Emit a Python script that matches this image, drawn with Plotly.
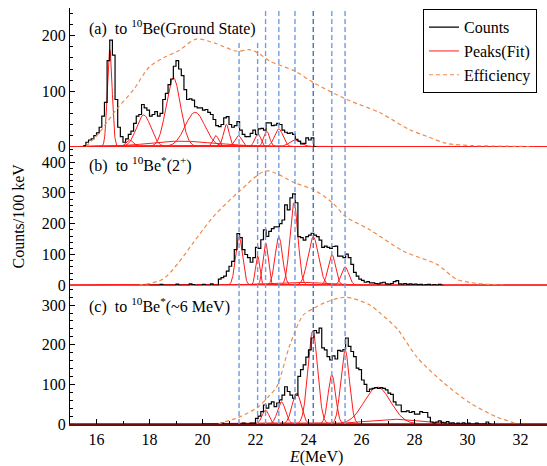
import numpy as np
import plotly.graph_objects as go

# ── Data ────────────────────────────────────────────────────────────────────
BIN = 0.1  # 100 keV bins

# (a) to 10Be ground state
A_START = 15.5
A_COUNTS = [2, 8, 12, 14, 20, 25, 35, 55, 80, 155, 192, 165, 85, 35, 18, 8, 14, 22, 28, 42,
            55, 58, 76, 70, 66, 55, 58, 63, 55, 60, 85, 96, 112, 122, 145, 155, 140, 128, 103, 85,
            86, 84, 72, 70, 70, 66, 67, 62, 58, 49, 38, 36, 40, 52, 54, 40, 35, 38, 45, 30,
            22, 18, 18, 24, 30, 22, 32, 33, 30, 43, 43, 38, 39, 42, 40, 30, 26, 24, 25, 22,
            13, 10, 5, 6, 16, 12, 16, 0]

# (b) to 10Be*(2+)
B_START = 18.0
B_COUNTS = [0, 0, 0, 0, 3, 0, 0, 0, 0, 0, 4, 0, 0, 0, 0, 5, 2, 0, 0, 0, 3, 0, 0, 5, 0, 0,
            20, 25, 30, 46, 62, 78, 116, 168, 155, 116, 100, 90, 75, 90, 123, 120, 148, 180, 159, 175,
            184, 190, 190, 200, 212, 261, 245, 284, 297, 268, 158, 155, 147, 158, 163, 169, 163, 158, 147,
            123, 127, 123, 120, 126, 127, 95, 95, 90, 101, 90, 68, 42, 30, 20, 16, 10, 12, 8, 8,
            6, 5, 8, 10, 5, 4, 6, 12, 15, 5, 4, 6, 3, 5, 3, 4, 2, 3, 0, 2, 3, 0, 2, 0, 3, 0]

# (c) to 10Be*(~6 MeV)
C_START = 20.0
C_COUNTS = [0, 0, 0, 0, 0, 0, 0, 2, 0, 0, 0, 0, 0, 0, 0, 2, 0, 0, 2,
            2, 14, 20, 31, 48, 40, 51, 56, 44, 53, 61, 73, 94, 82, 73, 65, 73, 120, 137, 149, 169,
            187, 217, 236, 230, 242, 192, 187, 170, 162, 172, 164, 186, 184, 188, 217, 196, 183, 170, 141, 137,
            111, 100, 82, 88, 90, 92, 90, 92, 90, 86, 78, 75, 56, 48, 48, 31, 31, 33, 29, 31,
            25, 25, 31, 29, 29, 17, 5, 3, 5, 8, 4, 3, 6, 2, 3, 0, 2, 0, 3, 0, 2, 0, 0, 2, 0, 0, 0, 5, 0]

# fitted peaks: centre (MeV), height (counts), sigma (MeV)
A_PEAK_E = [16.5, 17.25, 17.78, 18.9, 19.72, 20.5, 20.9, 21.35, 22.08, 22.42, 22.88, 23.5, 19.2]
A_PEAK_H = [175, 12, 57, 124, 62, 20, 40, 20, 24, 28, 32, 12, 10]
A_PEAK_S = [0.09, 0.13, 0.27, 0.27, 0.37, 0.11, 0.11, 0.13, 0.11, 0.11, 0.16, 0.22, 1.2]

B_PEAK_E = [21.38, 22.08, 22.38, 22.88, 23.45, 24.18, 24.88, 25.38, 23.5]
B_PEAK_H = [157, 95, 138, 157, 268, 157, 100, 60, 10]
B_PEAK_S = [0.13, 0.08, 0.1, 0.14, 0.15, 0.2, 0.14, 0.14, 1.2]

C_PEAK_E = [22.38, 22.98, 23.55, 24.16, 24.88, 25.38, 26.6, 27.2]
C_PEAK_H = [35, 56, 78, 235, 124, 187, 93, 12]
C_PEAK_S = [0.13, 0.15, 0.17, 0.18, 0.14, 0.16, 0.5, 1.0]

# efficiency curves (already scaled to each panel)
A_EFF_E = [15.6, 16.1, 16.75, 17.4, 18.0, 18.6, 19.1, 19.77, 20.5, 21.3, 21.75, 22.1, 22.55, 23.5,
           24.2, 25.45, 26.7, 27.8, 28.5, 29.2, 30.1, 31.4, 32.5]
A_EFF = [0, 25, 67, 103, 144, 162, 173, 194, 186, 172, 175, 169, 154, 136,
         115, 85, 61, 31, 18, 6, 2, 1, 0]

B_EFF_E = [17.6, 18.5, 19.1, 19.65, 20.4, 21.4, 22.4, 23.5, 24.2, 24.9, 25.4, 26.3, 27.6, 28.85,
           29.6, 30.4, 31.5]
B_EFF = [0, 20, 74, 138, 222, 306, 371, 332, 310, 268, 223, 181, 110, 68, 19, 6, 0]

C_EFF_E = [20.6, 21.4, 22.1, 22.5, 22.8, 23.3, 23.8, 24.2, 24.6, 25.4, 26.3, 26.7, 27.35, 28.1,
           29.1, 30.1, 31.1, 31.9]
C_EFF = [0, 18, 43, 70, 94, 200, 275, 292, 306, 320, 301, 280, 240, 168, 104, 53, 18, 0]

# resonance positions (dashed markers)
LINES_E = [21.38, 22.08, 22.38, 22.88, 23.49, 24.18, 24.88, 25.38]

PANEL_TEXT = ["(a)  to <sup>10</sup>Be(Ground State)",
              "(b)  to <sup>10</sup>Be<sup>*</sup>(2<sup>+</sup>)",
              "(c)  to <sup>10</sup>Be<sup>*</sup>(~6 MeV)"]

# ── Figure ──────────────────────────────────────────────────────────────────
FONT = "Liberation Serif, Times New Roman, serif"
fig = go.Figure()

panels = [
    ("y", A_START, A_COUNTS, A_PEAK_E, A_PEAK_H, A_PEAK_S, A_EFF_E, A_EFF),
    ("y2", B_START, B_COUNTS, B_PEAK_E, B_PEAK_H, B_PEAK_S, B_EFF_E, B_EFF),
    ("y3", C_START, C_COUNTS, C_PEAK_E, C_PEAK_H, C_PEAK_S, C_EFF_E, C_EFF),
]

grid = np.arange(15.0, 33.0001, 0.01)

for i, (yax, start, counts, pe, ph, ps, ee, ev) in enumerate(panels):
    first = (i == 0)
    # fitted peaks
    for k, (c, h, s) in enumerate(zip(pe, ph, ps)):
        fig.add_trace(go.Scatter(
            x=grid, y=h * np.exp(-0.5 * ((grid - c) / s) ** 2),
            mode="lines", line=dict(color="#ff1a1a", width=1),
            name="Peaks(Fit)", legendrank=2, showlegend=first and k == 0,
            xaxis="x", yaxis=yax, hoverinfo="skip"))
    # counts histogram
    edges = [start + BIN * j for j in range(len(counts) + 1)]
    fig.add_trace(go.Scatter(
        x=edges, y=list(counts) + [counts[-1]],
        mode="lines", line=dict(color="black", width=1.2, shape="hv"),
        name="Counts", legendrank=1, showlegend=first,
        xaxis="x", yaxis=yax))
    # efficiency
    fig.add_trace(go.Scatter(
        x=ee, y=ev, mode="lines",
        line=dict(color="#f08a4b", width=1.2, dash="4px,3px", shape="spline", smoothing=0.8),
        name="Efficiency", legendrank=3, showlegend=first,
        xaxis="x", yaxis=yax))

shapes = []
for j, e in enumerate(LINES_E):
    top = 2 / 3 + (190 / 250) / 3 if j < 2 else 1
    shapes.append(dict(
        type="line", xref="x", yref="paper", x0=e, x1=e, y0=0, y1=top,
        line=dict(color="#3f74c9" if j == 5 else "#6f9de3", width=1.4, dash="5px,3px"),
        layer="above"))

axis_font = dict(family=FONT, size=16, color="black")
yaxis_common = dict(
    showgrid=False, zeroline=False, showline=True, linecolor="black", linewidth=1,
    mirror=True, ticks="inside", ticklen=5, tickcolor="black",
    tickfont=axis_font,
    minor=dict(ticks="inside", ticklen=3, tickcolor="black"))

xaxis_common = dict(
    range=[15, 33], showgrid=False, zeroline=False, showline=True,
    linecolor="#6e0c0c", linewidth=2, ticks="inside", ticklen=5, tickcolor="black",
    dtick=2, minor=dict(ticks="inside", ticklen=3, dtick=1, tickcolor="black"),
    tickfont=axis_font)

fig.update_layout(
    width=547, height=466,
    margin=dict(l=70, r=0, t=8, b=42),
    paper_bgcolor="white", plot_bgcolor="white",
    font=dict(family=FONT, size=16, color="black"),
    xaxis=dict(**xaxis_common, anchor="y3"),
    xaxis2=dict(**xaxis_common, anchor="y2", matches="x", overlaying="x", showticklabels=False),
    xaxis3=dict(**xaxis_common, anchor="y", matches="x", overlaying="x", showticklabels=False),
    yaxis=dict(**yaxis_common, domain=[2 / 3, 1], range=[0, 250], dtick=100, anchor="x"),
    yaxis2=dict(**yaxis_common, domain=[1 / 3, 2 / 3], range=[0, 450], dtick=100, anchor="x"),
    yaxis3=dict(**yaxis_common, domain=[0, 1 / 3], range=[0, 350], dtick=100, anchor="x"),
    legend=dict(x=0.74, y=0.997, xanchor="left", yanchor="top",
                bgcolor="white", bordercolor="black", borderwidth=1,
                font=dict(family=FONT, size=16), itemwidth=30,
                tracegroupgap=0),
    shapes=shapes,
    showlegend=True,
)

ypos = [0.954, 0.625, 0.286]
annotations = []
for txt, yp in zip(PANEL_TEXT, ypos):
    annotations.append(dict(text=txt, xref="paper", yref="paper", x=0.035, y=yp,
                            xanchor="left", yanchor="middle", showarrow=False,
                            font=dict(family=FONT, size=16)))
annotations.append(dict(text="Counts/100 keV", xref="paper", yref="paper", x=-0.11, y=0.5,
                        textangle=-90, showarrow=False, xanchor="center", yanchor="middle",
                        font=dict(family=FONT, size=16)))
annotations.append(dict(text="<i>E</i>(MeV)", xref="paper", yref="paper", x=0.515, y=-0.08,
                        showarrow=False, xanchor="center", yanchor="middle",
                        font=dict(family=FONT, size=16)))
fig.update_layout(annotations=annotations)

fig.write_html("out.html", config={"displayModeBar": False},
               post_script="document.body.style.margin='0';")
